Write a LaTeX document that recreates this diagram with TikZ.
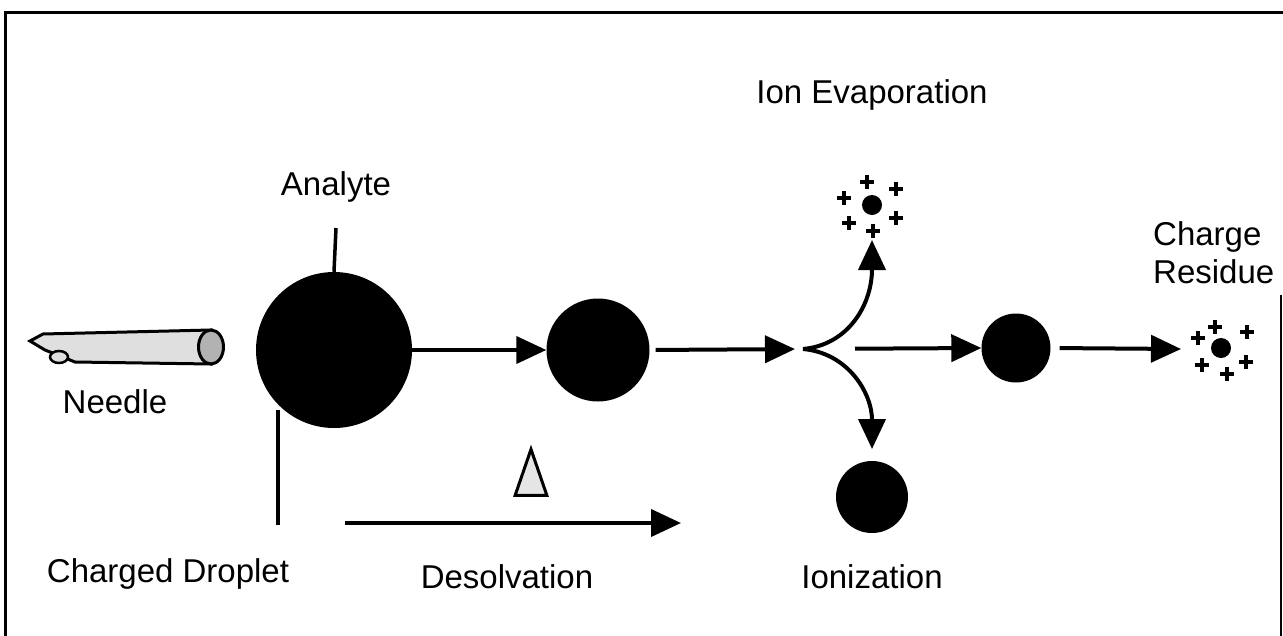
\documentclass[tikz,border=0pt]{standalone}
\usepackage{fontspec}
\setmainfont{Liberation Sans}
\usetikzlibrary{arrows.meta,calc,shapes.geometric}

\tikzset{
  lbl/.style={font=\fontsize{33}{38}\selectfont, inner sep=0pt},
  drop/.style={circle, fill=black, draw=none, inner sep=0pt},
  flow/.style={line width=4pt, -{Triangle[length=30pt,width=27pt]}},
  tick/.style={line width=3.5pt},
  chg/.pic={\draw[line width=3.4pt] (-7,0) -- (7,0) (0,-7) -- (0,7);}
}

\begin{document}
\begin{tikzpicture}[x=1pt,y=-1pt]
\useasboundingbox (0,0) rectangle (1283,635);
% frame
\draw[line width=3pt] (5,640) -- (5,12) -- (1290,12);
\draw[line width=2pt] (1281,295) -- (1281,640);

% needle
\draw[line width=3pt, fill=gray!25] (30,341) -- (43,334) -- (211,330)
  -- (211,364) -- (75,362) -- (45,350) -- cycle;
\draw[line width=2.5pt, fill=gray!25] (59,357) ellipse (9 and 6);
\draw[line width=3pt, fill=gray!60] (211,347) ellipse (12.5 and 17);
\node[lbl] (needle) at (115,402) {Needle};

% droplets
\node[drop, minimum size=156pt] (big) at (334,350) {};
\node[drop, minimum size=103pt] (mid) at (598,350) {};
\node[drop, minimum size=69pt] (small) at (1016,348) {};
\node[drop, minimum size=72pt] (ion) at (872,497) {};

% analyte and droplet pointers
\node[lbl] (analyte) at (336,187) {Analyte};
\coordinate (antop) at (336,228);
\draw[tick] (antop) -- (big.north);
\coordinate (cdtop) at (278,410);
\coordinate (cdbot) at (278,525);
\draw[tick] (cdtop) -- (cdbot);
\node[lbl] (charged) at (168,574) {Charged Droplet};

% main path
\coordinate (fork) at (803,349);
\draw[flow] (big) -- (mid);
\draw[flow, shorten <=6pt, shorten >=8pt] (mid.east) -- (fork);
\draw[flow, shorten <=52pt] (fork) -- (small.west);
\coordinate (restip) at (1181,349);
\draw[flow, shorten <=9pt] (small.east) -- (restip);

% branches
\coordinate (uptip) at (872,240);
\coordinate (dntip) at (872,449);
\draw[flow] (fork) .. controls (848,345) and (872,305) .. (uptip);
\draw[flow] (fork) .. controls (848,353) and (872,393) .. (dntip);

% evaporated ion
\node[drop, minimum size=20pt] (evap) at (872,205) {};
\foreach \dx/\dy in {-5/-23, 24/-16, -28/-7, 24/13, -23/18, 1/26}
  \pic at ($(evap)+(\dx,\dy)$) {chg};
\node[lbl] (ionevap) at (872,95) {Ion Evaporation};

% charge residue
\node[drop, minimum size=20pt] (res) at (1221,348) {};
\foreach \dx/\dy in {-6/-21, 26/-16, -23/-10, 25/14, -19/17, 6/26}
  \pic at ($(res)+(\dx,\dy)$) {chg};
\node[lbl, anchor=base west] (charge) at (1153,245) {Charge};
\node[lbl, anchor=base west] (residue) at (1153,283) {Residue};

\node[lbl] (ionization) at (872,577) {Ionization};

% desolvation
\node[draw, line width=3pt, fill=gray!20, isosceles triangle, isosceles triangle apex angle=38,
  shape border rotate=90, minimum height=46pt, inner sep=0pt] (heat) at (531,484) {};
\coordinate (dsa) at (345,523);
\coordinate (dsb) at (681,523);
\draw[flow] (dsa) -- (dsb);
\node[lbl] (desolv) at (507,577) {Desolvation};
\end{tikzpicture}
\end{document}
